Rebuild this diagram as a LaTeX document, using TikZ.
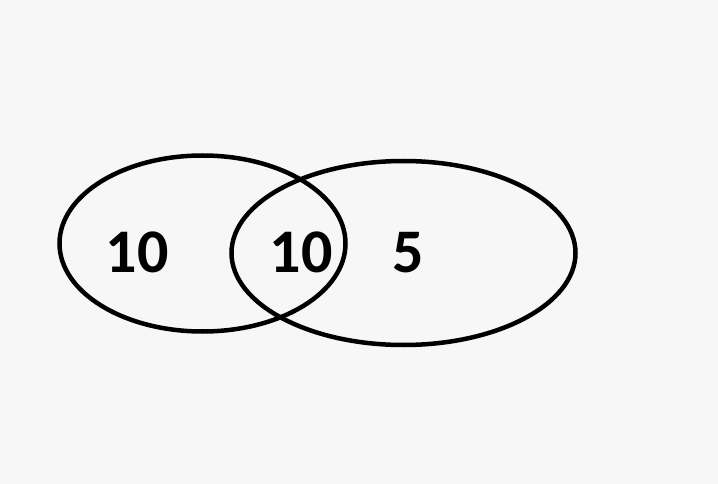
\documentclass[tikz,border=0pt]{standalone}
\usepackage{fontspec}
\setmainfont{Carlito}
\usetikzlibrary{shapes.geometric}

\begin{document}
\begin{tikzpicture}
        [x=1pt, y=-1pt, set/.style={ellipse, draw, line width=4.5pt, inner sep=0pt},
        count/.style={anchor=base, inner sep=0pt, font=\fontsize{62}{62}\bfseries\selectfont}]

        \fill[black!3] (0,0) rectangle (718,484);
        \useasboundingbox (0,0) rectangle (718,484);

        \node[set, minimum width=286pt, minimum height=176pt] (A) at (202.5,243.5) {};
        \node[set, minimum width=344pt, minimum height=184pt] (B) at (403.5,253) {};

        \node[count] (onlyA) at (137,272) {10};
        \node[count] (both) at (301,272) {10};
        \node[count] (onlyB) at (408,272) {5};

    \end{tikzpicture}
\end{document}
